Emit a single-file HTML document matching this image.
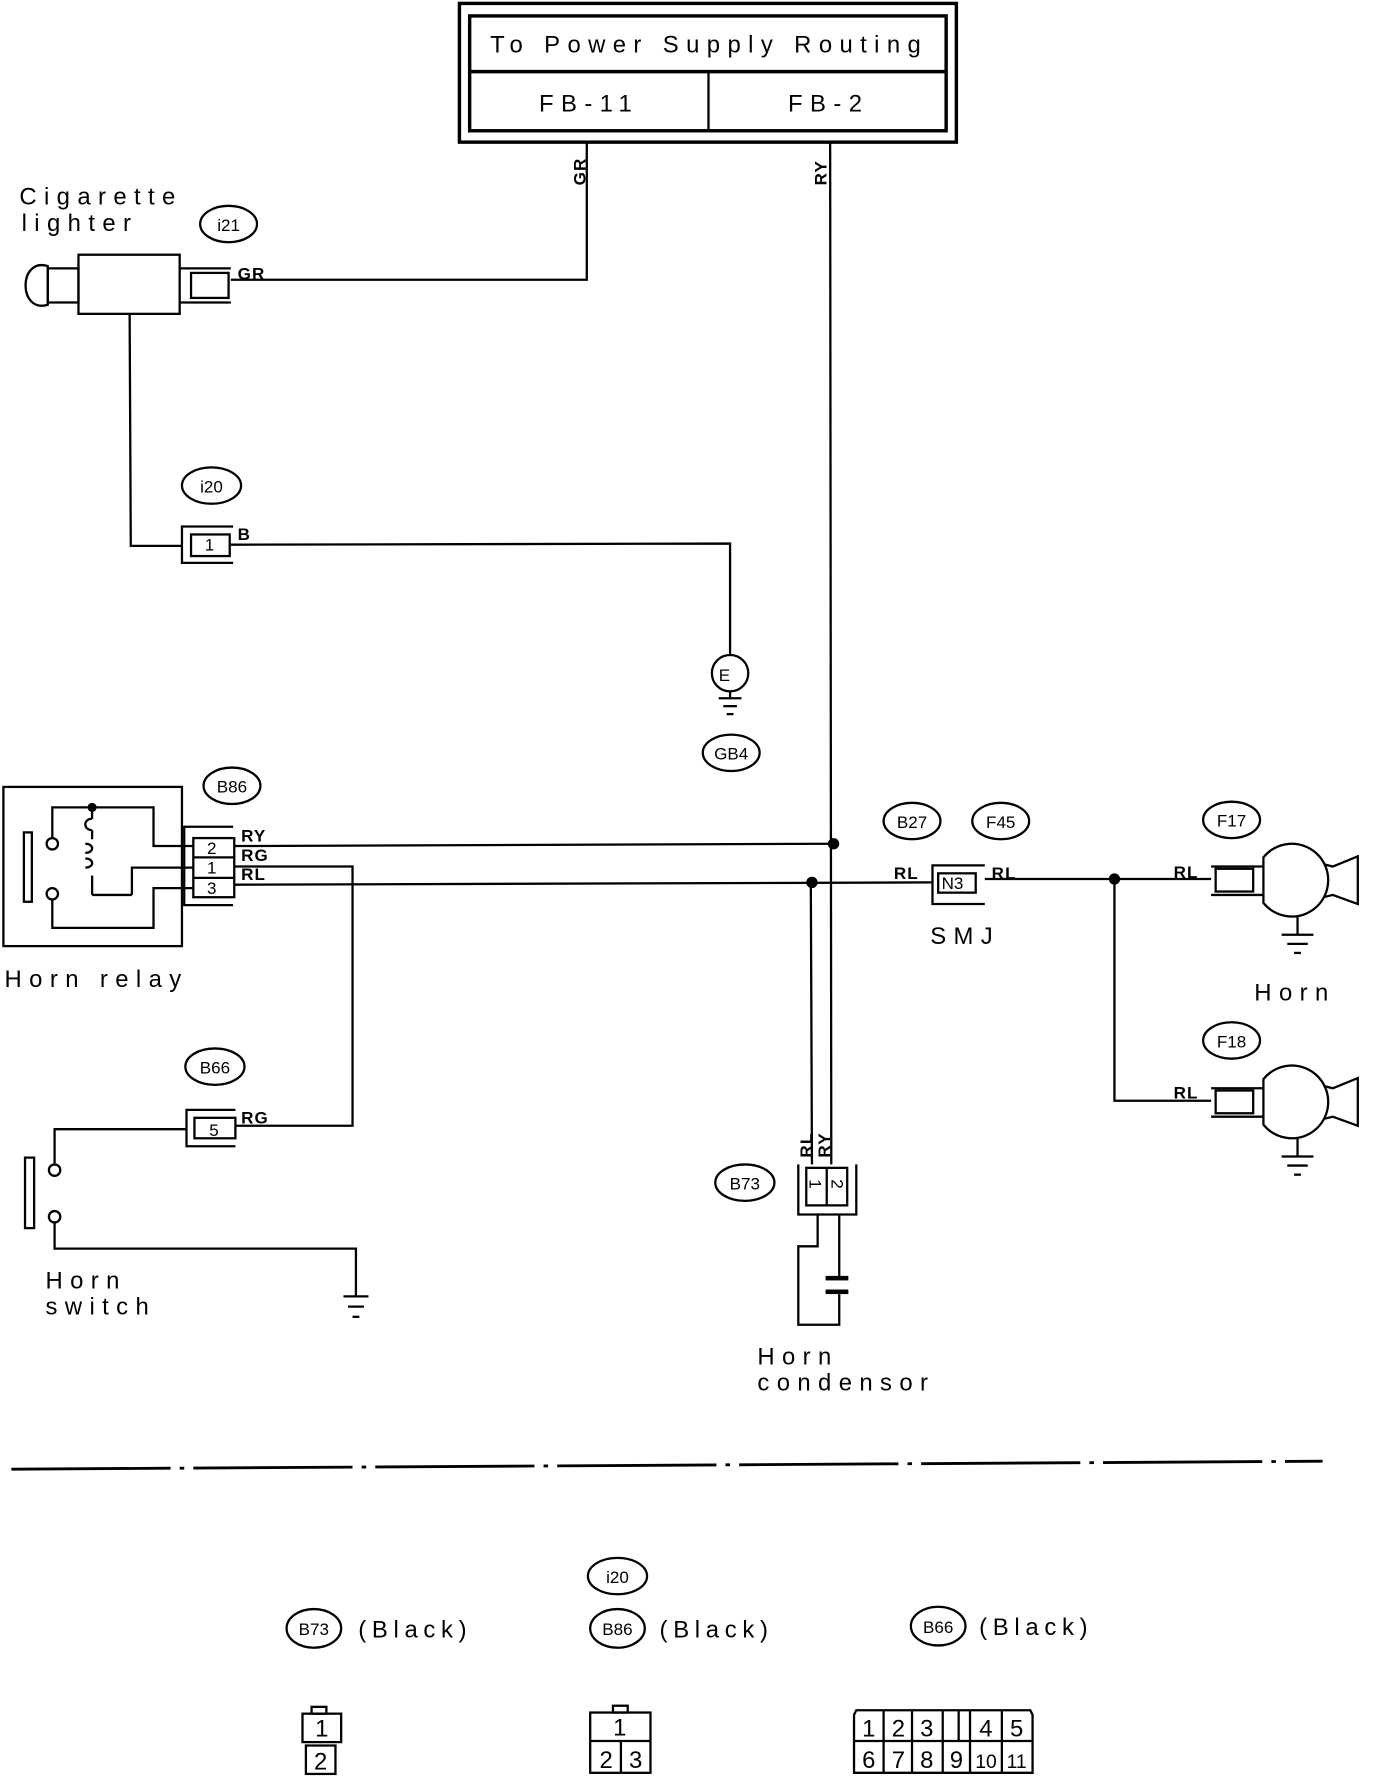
<!DOCTYPE html>
<html><head><meta charset="utf-8"><style>
html,body{margin:0;padding:0;background:#fff;}
svg{display:block;}
text{font-family:"Liberation Sans",sans-serif;fill:#000;}
.t{font-size:21px;letter-spacing:6.5px;}
.w{font-size:15px;font-weight:bold;letter-spacing:1px;}
.o{font-size:15px;}
</style></head><body>
<svg width="1376" height="1786" viewBox="0 0 1210 1570.6" preserveAspectRatio="none" xmlns="http://www.w3.org/2000/svg">
<g fill="none" stroke="#000" stroke-width="2">
<rect x="404" y="3" width="437" height="122" stroke-width="3"/>
<rect x="413" y="14" width="419" height="101" stroke-width="3"/>
<line x1="413" y1="63" x2="832" y2="63" stroke-width="3"/>
<line x1="623" y1="63" x2="623" y2="115"/>
<polyline points="516,125 516,246 203,246"/>
<line x1="730" y1="125" x2="731" y2="1024"/>
<rect x="69" y="224" width="89" height="52"/>
<path d="M42,234 C16,226 16,276 42,268 Z"/>
<rect x="42" y="236" width="27" height="30"/>
<line x1="158" y1="236" x2="203" y2="236"/><line x1="158" y1="266" x2="203" y2="266"/>
<rect x="168" y="240" width="33" height="22"/>
<polyline points="114,276 115,480 160,480"/>
<polyline points="205,463 160,463 160,495 205,495"/>
<rect x="168" y="470" width="34" height="19"/>
<polyline points="203,479 642,478 642,575"/>
<circle cx="642" cy="592" r="16"/>
<line x1="642" y1="608" x2="642" y2="614"/>
<line x1="632" y1="614" x2="652" y2="614"/><line x1="636" y1="621" x2="648" y2="621"/><line x1="639" y1="628" x2="645" y2="628"/>
<rect x="3" y="692" width="157" height="140"/>
<rect x="21" y="732" width="7" height="61"/>
<circle cx="46" cy="742" r="5"/><circle cx="46" cy="786" r="5"/>
<polyline points="46,737 46,710 135,710 135,744 170,744"/>
<polyline points="46,791 46,816 135,816 135,781 170,781"/>
<line x1="81" y1="710" x2="81" y2="720"/>
<path d="M81,720 c-8,0 -8,10 0,10 M81,730 l0,8 M75,742 c8,0 8,8 0,8 M75,755 c8,0 8,8 0,8 M81,770 l0,17"/>
<line x1="81" y1="787" x2="116" y2="787"/>
<polyline points="116,787 116,763 170,763"/>
<polyline points="205,727 162,727 162,796 205,796"/>
<rect x="170" y="737" width="36" height="52"/>
<line x1="170" y1="754" x2="206" y2="754"/><line x1="170" y1="772" x2="206" y2="772"/>
<line x1="206" y1="744" x2="733" y2="742"/>
<polyline points="206,762 310,762 310,990 208,990"/>
<line x1="206" y1="778" x2="819" y2="776"/>
<polyline points="207,976 164,976 164,1008 207,1008"/>
<rect x="171" y="983" width="36" height="18"/>
<polyline points="164,993 48,993 48,1023"/>
<rect x="22" y="1018" width="8" height="62"/>
<circle cx="48" cy="1029" r="5"/><circle cx="48" cy="1070" r="5"/>
<polyline points="48,1075 48,1098 313,1098 313,1140"/>
<line x1="302" y1="1140" x2="324" y2="1140"/><line x1="306" y1="1149" x2="320" y2="1149"/><line x1="310" y1="1158" x2="316" y2="1158"/>
<line x1="713" y1="776" x2="714" y2="1024"/>
<polyline points="702,1024 702,1068 753,1068 753,1024"/>
<rect x="709" y="1027" width="36" height="33"/>
<line x1="727" y1="1027" x2="727" y2="1060"/>
<polyline points="719,1068 719,1096 702,1096 702,1165 738,1165 738,1138"/>
<line x1="738" y1="1068" x2="738" y2="1123"/>
<polyline points="866,761 820,761 820,795 866,795"/>
<rect x="825" y="768" width="33" height="17"/>
<polyline points="866,773 1065,773"/>
<polyline points="980,773 980,968 1065,968"/>
<g id="horn">
<line x1="1065" y1="762" x2="1111" y2="762"/><line x1="1065" y1="787" x2="1111" y2="787"/>
<rect x="1069" y="764" width="33" height="20"/>
<path d="M1111,754 L1111,794 A32,32 0 1 0 1111,754 Z" />
<polyline points="1164,760 1172,762 1194,753 1194,795 1172,787 1164,789"/>
<line x1="1141" y1="806" x2="1141" y2="822"/>
<line x1="1127" y1="822" x2="1155" y2="822"/><line x1="1132" y1="830" x2="1150" y2="830"/><line x1="1138" y1="838" x2="1144" y2="838"/>
</g>
<use href="#horn" transform="translate(0,195)"/>
<line x1="10" y1="1292" x2="1163" y2="1285" stroke-dasharray="140,8,4,8" stroke-width="2.5"/>
<ellipse cx="201" cy="197" rx="25" ry="16"/>
<ellipse cx="186" cy="427" rx="26" ry="16"/>
<ellipse cx="643" cy="662" rx="25" ry="16"/>
<ellipse cx="204" cy="691" rx="25" ry="16"/>
<ellipse cx="189" cy="938" rx="26" ry="16"/>
<ellipse cx="802" cy="722" rx="25" ry="16"/>
<ellipse cx="880" cy="722" rx="25" ry="16"/>
<ellipse cx="1083" cy="721" rx="25" ry="16"/>
<ellipse cx="1083" cy="915" rx="25" ry="16"/>
<ellipse cx="655" cy="1040" rx="26" ry="16"/>
<ellipse cx="543" cy="1386" rx="26" ry="16"/>
<ellipse cx="276" cy="1432" rx="24" ry="17"/>
<ellipse cx="543" cy="1432" rx="24" ry="17"/>
<ellipse cx="825" cy="1430" rx="24" ry="17"/>
<rect x="274" y="1501" width="13" height="6"/>
<rect x="266" y="1507" width="34" height="25"/>
<rect x="269" y="1535" width="26" height="25"/>
<rect x="539" y="1500" width="13" height="6"/>
<rect x="519" y="1506" width="53" height="53"/>
<line x1="519" y1="1531" x2="572" y2="1531"/><line x1="546" y1="1531" x2="546" y2="1559"/>
<path d="M751,1508 L753,1504 L906,1504 L908,1508 L908,1559 L751,1559 Z"/>
<line x1="751" y1="1531" x2="908" y2="1531"/>
<line x1="777" y1="1504" x2="777" y2="1559"/><line x1="802" y1="1504" x2="802" y2="1559"/><line x1="829" y1="1504" x2="829" y2="1559"/>
<line x1="843" y1="1504" x2="843" y2="1531"/><line x1="853" y1="1504" x2="853" y2="1559"/><line x1="881" y1="1504" x2="881" y2="1559"/>
</g>
<g fill="#000">
<circle cx="81" cy="710" r="4"/>
<circle cx="733" cy="742" r="5"/>
<circle cx="714" cy="776" r="5"/>
<circle cx="980" cy="773" r="5"/>
<rect x="726" y="1122" width="20" height="4"/><rect x="726" y="1134" width="20" height="4"/>
</g>
<text class="t" x="431" y="46">To Power Supply Routing</text>
<text class="t" x="474" y="98">FB-11</text>
<text class="t" x="693" y="98">FB-2</text>
<text class="w" transform="translate(515,163) rotate(-90)">GR</text>
<text class="w" transform="translate(727,163) rotate(-90)">RY</text>
<text class="t" x="17" y="180">Cigarette</text>
<text class="t" x="19" y="203">lighter</text>
<text class="w" x="209" y="246">GR</text>
<text class="w" x="209" y="475">B</text>
<text class="o" x="180" y="484">1</text>
<text class="o" x="632" y="599">E</text>
<text class="w" x="212" y="740">RY</text>
<text class="w" x="212" y="757">RG</text>
<text class="w" x="212" y="774">RL</text>
<text class="o" x="182" y="751" font-size="13">2</text>
<text class="o" x="182" y="768" font-size="13">1</text>
<text class="o" x="182" y="786" font-size="13">3</text>
<text class="t" x="4" y="868">Horn relay</text>
<text class="w" x="212" y="988">RG</text>
<text class="o" x="184" y="999">5</text>
<text class="t" x="40" y="1133">Horn</text>
<text class="t" x="40" y="1156">switch</text>
<text class="w" transform="translate(714,1018) rotate(-90)">RL</text>
<text class="w" transform="translate(730,1018) rotate(-90)">RY</text>
<text class="o" transform="translate(712,1037) rotate(90)" font-size="13">1</text>
<text class="o" transform="translate(731,1037) rotate(90)" font-size="13">2</text>
<text class="t" x="666" y="1200">Horn</text>
<text class="t" x="666" y="1223">condensor</text>
<text class="w" x="786" y="773">RL</text>
<text class="w" x="872" y="773">RL</text>
<text class="o" x="828" y="782" font-size="14">N3</text>
<text class="t" x="818" y="830">SMJ</text>
<text class="w" x="1032" y="772">RL</text>
<text class="w" x="1032" y="966">RL</text>
<text class="t" x="1103" y="880">Horn</text>
<g class="o" text-anchor="middle" font-size="15">
<text x="201" y="203">i21</text>
<text x="186" y="433">i20</text>
<text x="643" y="668">GB4</text>
<text x="204" y="697">B86</text>
<text x="189" y="944">B66</text>
<text x="802" y="728">B27</text>
<text x="880" y="728">F45</text>
<text x="1083" y="727">F17</text>
<text x="1083" y="921">F18</text>
<text x="655" y="1046">B73</text>
<text x="543" y="1392">i20</text>
<text x="276" y="1438">B73</text>
<text x="543" y="1438">B86</text>
<text x="825" y="1436">B66</text>
</g>
<text class="t" x="315" y="1440" font-size="19" style="letter-spacing:5px">(Black)</text>
<text class="t" x="580" y="1440" font-size="19" style="letter-spacing:5px">(Black)</text>
<text class="t" x="861" y="1438" font-size="19" style="letter-spacing:5px">(Black)</text>
<g font-size="21" text-anchor="middle">
<text x="283" y="1527">1</text><text x="282" y="1556">2</text>
<text x="545" y="1526">1</text><text x="533" y="1555">2</text><text x="559" y="1555">3</text>
<text x="764" y="1527">1</text><text x="790" y="1527">2</text><text x="815" y="1527">3</text><text x="867" y="1527">4</text><text x="894" y="1527">5</text>
<text x="764" y="1555">6</text><text x="790" y="1555">7</text><text x="815" y="1555">8</text><text x="841" y="1555">9</text><text x="867" y="1555" font-size="17">10</text><text x="894" y="1555" font-size="17">11</text>
</g>
</svg>
</body></html>
